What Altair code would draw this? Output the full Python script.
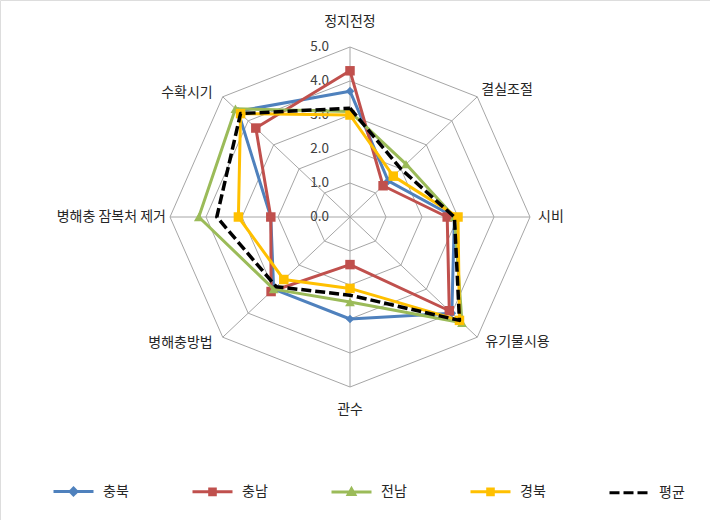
import altair as alt
import pandas as pd

# ---------------- data ----------------
categories = ["정지전정", "결실조절", "시비", "유기물시용", "관수", "병해충방법", "병해충 잠복처 제거", "수확시기"]
series_names = ["충북", "충남", "전남", "경북", "평균"]
chungbuk = [3.7, 1.5, 2.9, 4.0, 3.0, 3.0, 2.2, 4.4]
chungnam = [4.3, 1.3, 2.7, 3.9, 1.4, 3.1, 2.2, 3.7]
jeonnam = [3.1, 2.2, 2.9, 4.4, 2.5, 3.0, 4.2, 4.5]
gyeongbuk = [3.0, 1.7, 3.0, 4.3, 2.1, 2.6, 3.1, 4.3]
average = [3.2, 2.0, 2.9, 4.3, 2.3, 2.9, 3.7, 4.3]
tick_values = [0, 1, 2, 3, 4, 5]
series_values = [chungbuk, chungnam, jeonnam, gyeongbuk, average]

# ---------------- styles ----------------
colors = ["#4F81BD", "#C0504D", "#9BBB59", "#FFC000", "#000000"]
marker_shapes = ["diamond", "square", "triangle-up", "square", None]
marker_sizes = [75, 90, 95, 90, 0]
LINE = "M-1,0L1,0"
legend_paths = [
    LINE + "M0,-0.17L0.17,0L0,0.17L-0.17,0Z",
    LINE + "M-0.14,-0.14L0.14,-0.14L0.14,0.14L-0.14,0.14Z",
    LINE + "M0,-0.16L0.16,0.12L-0.16,0.12Z",
    LINE + "M-0.14,-0.14L0.14,-0.14L0.14,0.14L-0.14,0.14Z",
    LINE,
]
dash_styles = [[1, 0], [1, 0], [1, 0], [1, 0], [10, 4]]
FONT = "Noto Sans CJK KR"
GRID = "#A6A6A6"
N = len(categories)
RMAX = tick_values[-1]

xs = alt.Scale(domain=[-350 / 36, 360 / 36], nice=False, zero=False)
ys = alt.Scale(domain=[-303 / 34, 217 / 34], nice=False, zero=False)
X = alt.X("px:Q", scale=xs, axis=None)
Y = alt.Y("py:Q", scale=ys, axis=None)
calc = dict(px=f"datum.v * sin(datum.i * 2 * PI / {N})",
            py=f"datum.v * cos(datum.i * 2 * PI / {N})")

layers = []

# grid rings
ring_rows = [{"ring": k, "i": i, "v": k} for k in tick_values[1:] for i in range(N + 1)]
rings = alt.Chart(pd.DataFrame(ring_rows)).transform_calculate(**calc).mark_line(
    color=GRID, strokeWidth=1).encode(x=X, y=Y, detail="ring:N", order="i:Q")
layers.append(rings)

# spokes
spoke_rows = [{"i": i, "v": RMAX} for i in range(N)]
spokes = alt.Chart(pd.DataFrame(spoke_rows)).transform_calculate(
    **calc, ox="0", oy="0").mark_rule(color=GRID, strokeWidth=1).encode(
    x=alt.X("ox:Q", scale=xs, axis=None), y=alt.Y("oy:Q", scale=ys, axis=None),
    x2="px:Q", y2="py:Q")
layers.append(spokes)

# tick labels
tick_df = pd.DataFrame({"v": tick_values, "i": 0})
ticks = alt.Chart(tick_df).transform_calculate(
    **calc, lab="format(datum.v, '.1f')").mark_text(
    align="right", baseline="middle", dx=-21, font=FONT, fontSize=13.5, color="#404040").encode(
    x=X, y=Y, text="lab:N")
layers.append(ticks)

# category labels (offsets in pixels per direction)
label_layout = [
    ("center", 0, -25), ("left", 4, -7), ("left", 8, 0), ("left", 8, 5),
    ("center", 0, 23), ("right", -10, 6), ("right", -4, 0), ("right", -10, -4),
]
for i, (cat, (al, ddx, ddy)) in enumerate(zip(categories, label_layout)):
    t = alt.Chart(pd.DataFrame({"cat": [cat], "i": [i], "v": [RMAX]})).transform_calculate(
        **calc).mark_text(align=al, baseline="middle", dx=ddx, dy=ddy, font=FONT,
                          fontSize=14, color="#262626").encode(x=X, y=Y, text="cat:N")
    layers.append(t)

# series (line + markers drawn series by series)
for s, (name, vals) in enumerate(zip(series_names, series_values)):
    rows = [{"series": name, "i": i, "idx": i, "v": vals[i % N]} for i in range(N + 1)]
    base = alt.Chart(pd.DataFrame(rows)).transform_calculate(**calc)
    if name == "평균":
        lm = base.mark_line(strokeWidth=3.5, strokeDash=dash_styles[s], strokeJoin="round",
                            color=colors[s])
    else:
        lm = base.mark_line(strokeWidth=3, strokeJoin="round", color=colors[s])
    layers.append(lm.encode(x=X, y=Y, order="idx:Q"))
    if marker_shapes[s]:
        pts = base.transform_filter(f"datum.idx < {N}").mark_point(
            filled=True, shape=marker_shapes[s], size=marker_sizes[s], opacity=1,
            color=colors[s]).encode(x=X, y=Y)
        layers.append(pts)

# legend-only layer (no marks drawn; legend built from explicit scale domains)
legend = alt.Legend(title=None, orient="none", legendX=52, legendY=470, direction="horizontal",
                    symbolSize=1600, symbolStrokeWidth=3, symbolOpacity=1, labelFont=FONT,
                    labelFontSize=14, labelColor="#262626", columnPadding=57, labelOffset=8)
leg_df = pd.DataFrame({"series": series_names, "i": 0, "v": 0})
leg_layer = alt.Chart(leg_df).transform_filter("false").transform_calculate(**calc).mark_point(
    filled=True, size=1600, strokeWidth=3).encode(
    x=X, y=Y,
    fill=alt.Fill("series:N", scale=alt.Scale(domain=series_names, range=colors), legend=legend),
    stroke=alt.Stroke("series:N", scale=alt.Scale(domain=series_names, range=colors), legend=legend),
    shape=alt.Shape("series:N", scale=alt.Scale(domain=series_names, range=legend_paths), legend=legend),
    strokeDash=alt.StrokeDash("series:N", scale=alt.Scale(domain=series_names, range=dash_styles),
                              legend=legend),
)
layers.append(leg_layer)

chart = alt.layer(*layers).properties(
    width=710, height=520, autosize=alt.AutoSizeParams(type="none"), padding=0,
).configure_view(stroke=None).configure(background="white")

chart.save("out.html", embed_options={"renderer": "svg", "actions": False})
